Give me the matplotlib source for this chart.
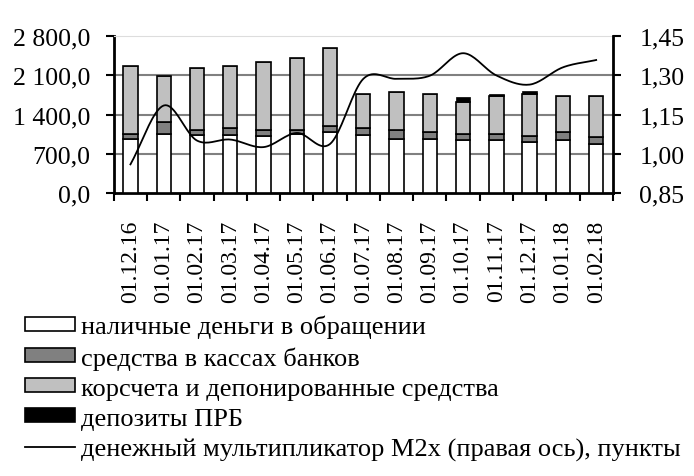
import numpy as np
import matplotlib
matplotlib.use("Agg")
import matplotlib.pyplot as plt
from matplotlib.patches import Patch
from matplotlib.lines import Line2D
from matplotlib.ticker import FuncFormatter

plt.rcParams['font.family'] = ['Liberation Serif', 'DejaVu Serif']

dates = ["01.12.16", "01.01.17", "01.02.17", "01.03.17", "01.04.17", "01.05.17",
         "01.06.17", "01.07.17", "01.08.17", "01.09.17", "01.10.17", "01.11.17",
         "01.12.17", "01.01.18", "01.02.18"]
cash = [960, 1060, 1030, 1030, 1015, 1050, 1090, 1045, 970, 970, 945, 945, 910, 945, 880]
vault = [100, 210, 105, 140, 120, 80, 105, 125, 165, 125, 107, 112, 118, 154, 115]
corr = [1210, 820, 1100, 1100, 1207, 1280, 1390, 595, 665, 670, 583, 684, 749, 636, 735]
prb = [0, 0, 0, 0, 0, 0, 0, 0, 0, 0, 77, 36, 42, 0, 8]
mult = [0.96, 1.185, 1.051, 1.055, 1.026, 1.080, 1.038, 1.287, 1.287, 1.299,
        1.385, 1.300, 1.265, 1.331, 1.359]


def smooth(x, y, n=20):
    # catmull-rom, like the excel smoothed line
    x = np.asarray(x, float)
    y = np.asarray(y, float)
    px = np.concatenate([[2 * x[0] - x[1]], x, [2 * x[-1] - x[-2]]])
    py = np.concatenate([[2 * y[0] - y[1]], y, [2 * y[-1] - y[-2]]])
    xs, ys = [], []
    for i in range(1, len(px) - 2):
        t = np.linspace(0, 1, n, endpoint=False)
        for p, out in ((px, xs), (py, ys)):
            p0, p1, p2, p3 = p[i - 1], p[i], p[i + 1], p[i + 2]
            out.extend(0.5 * (2 * p1 + (-p0 + p2) * t + (2 * p0 - 5 * p1 + 4 * p2 - p3) * t ** 2
                              + (-p0 + 3 * p1 - 3 * p2 + p3) * t ** 3))
    xs.append(x[-1])
    ys.append(y[-1])
    return xs, ys


fig = plt.figure(figsize=(6.94, 4.77), dpi=100)
ax = fig.add_axes([0.164, 0.593, 0.719, 0.329])
x = np.arange(len(dates))
w = 0.43
ec = 'black'
lw = 1.2
b1 = np.array(cash)
b2 = b1 + np.array(vault)
b3 = b2 + np.array(corr)
ax.bar(x, cash, w, color='white', edgecolor=ec, linewidth=lw, zorder=3)
ax.bar(x, vault, w, bottom=b1, color='#808080', edgecolor=ec, linewidth=lw, zorder=3)
ax.bar(x, corr, w, bottom=b2, color='#c0c0c0', edgecolor=ec, linewidth=lw, zorder=3)
ax.bar(x, prb, w, bottom=b3, color='black', edgecolor=ec, linewidth=0.5, zorder=3)

ax.set_xlim(-0.5, len(dates) - 0.5)
ax.set_ylim(0, 2800)
ax.set_yticks([0, 700, 1400, 2100, 2800])
ax.yaxis.set_major_formatter(FuncFormatter(lambda v, p: "{:,.1f}".format(v).replace(",", " ").replace(".", ",")))
for v in [700, 1400, 2100]:
    ax.axhline(v, color='#808080', linewidth=1.5, zorder=1)
ax.set_xticks(np.arange(len(dates) + 1) - 0.5)
ax.set_xticklabels([])
ax.set_xticks(x, minor=True)
ax.set_xticklabels(dates, minor=True, rotation=90, fontsize=17)
ax.tick_params(axis='x', which='minor', length=0, pad=19)
ax.tick_params(axis='x', which='major', length=6, width=1.5, direction='out')
ax.tick_params(axis='y', labelsize=18.5, length=6, width=1.5, pad=11)
ax.spines['top'].set_color('#dddddd')
ax.spines['right'].set_visible(False)
for s in ['left', 'bottom']:
    ax.spines[s].set_linewidth(2)

ax2 = ax.twinx()
sx, sy = smooth(x, mult)
ax2.plot(sx, sy, color='black', linewidth=1.3, zorder=5)
ax2.set_ylim(0.85, 1.45)
ax2.set_yticks([0.85, 1.00, 1.15, 1.30, 1.45])
ax2.yaxis.set_major_formatter(FuncFormatter(lambda v, p: "{:.2f}".format(v).replace(".", ",")))
ax2.tick_params(axis='y', labelsize=18.5, length=6, width=1.5, pad=13)
ax2.spines['right'].set_linewidth(2)
ax2.spines['top'].set_visible(False)
ax2.spines['left'].set_visible(False)
ax2.spines['bottom'].set_visible(False)

handles = [Patch(facecolor='white', edgecolor='black', linewidth=1.2),
           Patch(facecolor='#808080', edgecolor='black', linewidth=1.2),
           Patch(facecolor='#c0c0c0', edgecolor='black', linewidth=1.2),
           Patch(facecolor='black', edgecolor='black', linewidth=1.2),
           Line2D([], [], color='black', linewidth=1.3)]
labels = ["наличные деньги в обращении", "средства в кассах банков",
          "корсчета и депонированные средства", "депозиты ПРБ",
          "денежный мультипликатор M2x (правая ось), пункты"]
fig.legend(handles, labels, loc='upper left', bbox_to_anchor=(0.036, 0.338), frameon=False,
           fontsize=19, handlelength=1.9, handleheight=0.45, handletextpad=0.22,
           labelspacing=0.3, borderaxespad=0, borderpad=0)

fig.savefig("out.png", dpi=100)
